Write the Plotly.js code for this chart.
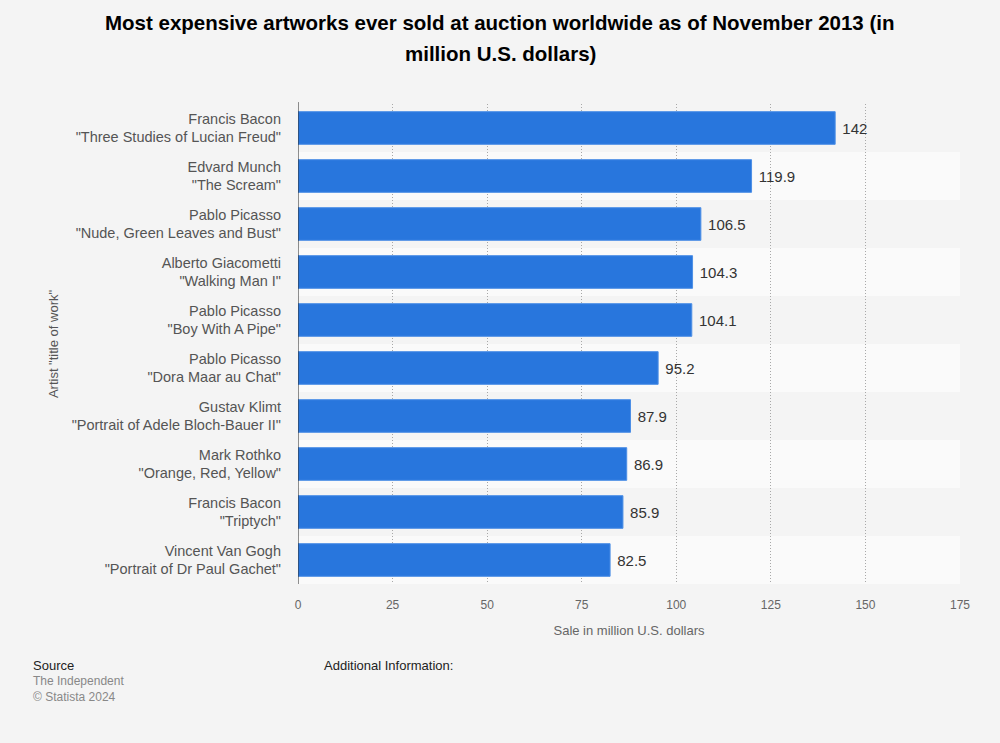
<!DOCTYPE html>
<html>
<head>
<meta charset="utf-8">
<script src="https://cdn.plot.ly/plotly-3.0.1.min.js"></script>
<style>
html,body{margin:0;padding:0;background:#f4f4f4;}
#chart{width:1000px;height:743px;}
</style>
</head>
<body>
<div id="chart"></div>
<script>
const artists = ["Francis Bacon","Edvard Munch","Pablo Picasso","Alberto Giacometti","Pablo Picasso","Pablo Picasso","Gustav Klimt","Mark Rothko","Francis Bacon","Vincent Van Gogh"];
const works = ["\"Three Studies of Lucian Freud\"","\"The Scream\"","\"Nude, Green Leaves and Bust\"","\"Walking Man I\"","\"Boy With A Pipe\"","\"Dora Maar au Chat\"","\"Portrait of Adele Bloch-Bauer II\"","\"Orange, Red, Yellow\"","\"Triptych\"","\"Portrait of Dr Paul Gachet\""];
const values = [142, 119.9, 106.5, 104.3, 104.1, 95.2, 87.9, 86.9, 85.9, 82.5];
const xTicks = [0, 25, 50, 75, 100, 125, 150, 175];

const labels = artists.map((a, i) => a + "<br>" + works[i]);
const FONT = 'Liberation Sans, Arial, sans-serif';

const shapes = [];
labels.forEach((l, i) => {
  if (i % 2 === 1) {
    shapes.push({type:'rect', xref:'paper', yref:'y', x0:0, x1:1, y0:i-0.5, y1:i+0.5,
      fillcolor:'#fafafa', line:{width:0}, layer:'below'});
  }
});
shapes.push({type:'line', xref:'x', yref:'paper', x0:0, x1:0, y0:0, y1:1.004, line:{color:'#222', width:1}});

const trace = {
  type:'bar', orientation:'h',
  x: values, y: labels.map((l,i)=>i),
  text: values.map(v => String(v)),
  texttemplate:' %{text}',
  textposition:'outside',
  textfont:{family:FONT, size:15, color:'#333'},
  cliponaxis:false,
  marker:{color:'#2876dd', line:{color:'#4d8fe6', width:1}},
  width:0.68,
  hoverinfo:'none'
};

// paper x of the page centre (500px) given margins l=298, r=40
const cx = (500 - 298) / (1000 - 298 - 40);

const layout = {
  width:1000, height:743,
  paper_bgcolor:'#f4f4f4', plot_bgcolor:'rgba(0,0,0,0)',
  margin:{l:298, r:40, t:104, b:159},
  font:{family:FONT, color:'#555'},
  showlegend:false,
  shapes: shapes,
  xaxis:{range:[0,175], tickvals:xTicks, ticktext:xTicks.map(String),
    showgrid:true, gridcolor:'#a8a8a8', griddash:'1px,2px', gridwidth:1,
    zeroline:false, showline:false, ticks:'', ticklen:0,
    ticklabelstandoff:12,
    tickfont:{size:12, color:'#666'},
    title:{text:'Sale in million U.S. dollars', standoff:14, font:{size:13, color:'#666'}},
    fixedrange:true},
  yaxis:{tickvals:labels.map((l,i)=>i), ticktext:labels, autorange:false, range:[9.5,-0.5],
    showgrid:false, zeroline:false, showline:false, ticks:'', ticklen:0,
    ticklabelstandoff:16,
    tickfont:{size:14.5, color:'#555'},
    title:{text:'Artist "title of work"', standoff:10, font:{size:13, color:'#555'}},
    fixedrange:true},
  annotations:[
    {xref:'paper', yref:'paper', x:cx, xanchor:'center', y:1, yanchor:'middle', yshift:82,
      text:'<b>Most expensive artworks ever sold at auction worldwide as of November 2013 (in</b>',
      showarrow:false, font:{family:FONT, size:20.5, color:'#000'}},
    {xref:'paper', yref:'paper', x:cx, xanchor:'center', y:1, yanchor:'middle', yshift:51,
      text:'<b>million U.S. dollars)</b>',
      showarrow:false, font:{family:FONT, size:20.5, color:'#000'}},
    {xref:'paper', yref:'paper', xshift:-267, x:0, xanchor:'left', yshift:-72, y:0, yanchor:'top',
      text:'Source', showarrow:false, font:{size:13, color:'#222'}},
    {xref:'paper', yref:'paper', xshift:-267, x:0, xanchor:'left', yshift:-88, y:0, yanchor:'top',
      text:'The Independent<br>© Statista 2024', showarrow:false, align:'left', font:{size:12, color:'#888'}},
    {xref:'paper', yref:'paper', xshift:24, x:0, xanchor:'left', yshift:-72, y:0, yanchor:'top',
      text:'Additional Information:', showarrow:false, font:{size:13, color:'#222'}}
  ]
};

Plotly.newPlot('chart', [trace], layout, {displayModeBar:false, staticPlot:true});
</script>
</body>
</html>
